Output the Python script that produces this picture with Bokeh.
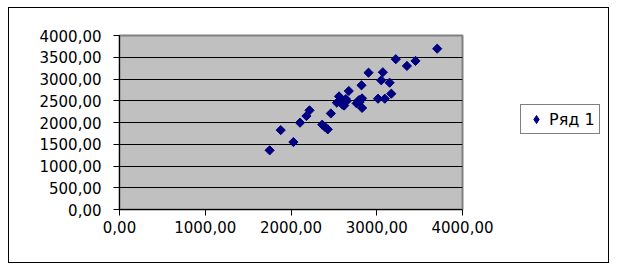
import math
from bokeh.plotting import figure
from bokeh.layouts import row
from bokeh.models import Range1d, Legend, LegendItem, FixedTicker
from bokeh.embed import file_html
from bokeh.resources import INLINE

# data
x_values = [1751, 1880, 2028, 2105, 2180, 2216, 2364, 2396, 2429, 2465,
            2535, 2560, 2590, 2600, 2620, 2650, 2640, 2674, 2765, 2793,
            2800, 2822, 2829, 2829, 2904, 3015, 3052, 3071, 3094, 3150,
            3170, 3222, 3352, 3452, 3705]
y_values = [1360, 1825, 1550, 1996, 2149, 2280, 1950, 1897, 1843, 2208,
            2455, 2600, 2480, 2410, 2390, 2495, 2540, 2724, 2440, 2516,
            2470, 2855, 2554, 2335, 3145, 2547, 2970, 3155, 2547, 2915,
            2662, 3455, 3300, 3415, 3697]
series_name = "Ряд 1"

x_ticks = [0, 1000, 2000, 3000, 4000]
x_tick_labels = ["0,00", "1000,00", "2000,00", "3000,00", "4000,00"]
y_ticks = [0, 500, 1000, 1500, 2000, 2500, 3000, 3500, 4000]
y_tick_labels = ["0,00", "500,00", "1000,00", "1500,00", "2000,00",
                 "2500,00", "3000,00", "3500,00", "4000,00"]

FONT = "DejaVu Sans"
NAVY = "#000080"

# ---- main chart ----
p = figure(width=495, height=254, output_backend="svg", toolbar_location=None,
           x_range=Range1d(0, 4000), y_range=Range1d(0, 4000),
           min_border_left=110, min_border_right=42,
           min_border_top=27, min_border_bottom=53)

p.background_fill_color = "#C0C0C0"
p.border_fill_color = "white"
p.outline_line_color = "#808080"
p.outline_line_width = 2

p.xgrid.grid_line_color = None
p.ygrid.grid_line_color = "black"
p.ygrid.grid_line_width = 1

for ax, ticks, labels in ((p.xaxis[0], x_ticks, x_tick_labels),
                          (p.yaxis[0], y_ticks, y_tick_labels)):
    ax.ticker = FixedTicker(ticks=ticks)
    ax.major_label_overrides = {t: l for t, l in zip(ticks, labels)}
    ax.axis_line_color = "black"
    ax.major_tick_line_color = "black"
    ax.minor_tick_line_color = None
    ax.major_tick_in = 0
    ax.major_tick_out = 6
    ax.major_label_text_font = FONT
    ax.major_label_text_font_size = "15px"
    ax.major_label_text_color = "black"

p.yaxis.major_label_standoff = 12
p.xaxis.major_label_standoff = 5

p.scatter(x_values, y_values, marker="square", angle=math.pi / 4, size=6.5,
          fill_color=NAVY, line_color=NAVY)

# ---- legend panel (its key renderer holds the first point, out of view) ----
pl = figure(width=104, height=254, output_backend="svg", toolbar_location=None,
            x_range=Range1d(0, 1), y_range=Range1d(0, 1),
            min_border=0, x_axis_type=None, y_axis_type=None)
pl.grid.visible = False
pl.outline_line_color = None
pl.background_fill_color = "white"
pl.border_fill_color = "white"
key = pl.scatter(x_values[:1], y_values[:1], marker="diamond",
                 fill_color=NAVY, line_color=NAVY)

legend = Legend(items=[LegendItem(label=series_name, renderers=[key])],
                location=(16, 75))
legend.border_line_color = "black"
legend.border_line_width = 1
legend.background_fill_color = "white"
legend.background_fill_alpha = 1
legend.padding = 4
legend.margin = 0
legend.spacing = 0
legend.glyph_width = 22
legend.glyph_height = 20
legend.label_standoff = 2
legend.label_height = 20
legend.label_text_font = FONT
legend.label_text_font_size = "16px"
legend.label_text_color = "black"
pl.add_layout(legend)

layout = row(p, pl, margin=(7, 0, 0, 8), styles={"border": "1px solid black"})

open("out.html", "w").write(file_html(layout, INLINE))
